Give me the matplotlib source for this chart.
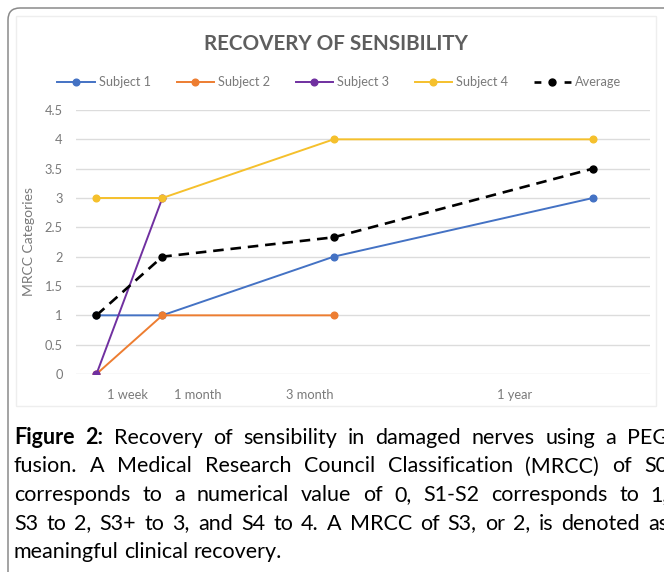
import numpy as np
import matplotlib.pyplot as plt
from matplotlib.patches import FancyBboxPatch, Rectangle
from matplotlib.lines import Line2D
from matplotlib.ticker import FuncFormatter

# Data
time_labels = ["1 week", "1 month", "3 month", "1 year"]
time_pos = [1, 4, 11.8, 23.6]          # where each time point sits on the drawn axis
label_pos = [2.4, 5.6, 10.7, 20.05]    # where the category text is printed

subject_1 = [1, 1, 2, 3]
subject_2 = [0, 1, 1, np.nan]
subject_3 = [0, 3, np.nan, np.nan]
subject_4 = [3, 3, 4, 4]
average = [1, 2, 2.33, 3.5]

series_names = ["Subject 1", "Subject 2", "Subject 3", "Subject 4", "Average"]

caption = [
    "Figure 2: Recovery of sensibility in damaged nerves using a PEG",
    "fusion. A Medical Research Council Classification (MRCC) of S0",
    "corresponds to a numerical value of 0, S1-S2 corresponds to 1,",
    "S3 to 2, S3+ to 3, and S4 to 4. A MRCC of S3, or 2, is denoted as",
    "meaningful clinical recovery.",
]

W, H = 664, 572
plt.rcParams['font.family'] = ['Lato', 'DejaVu Sans']

fig = plt.figure(figsize=(W / 100, H / 100), dpi=100)
fig.patch.set_facecolor("white")

# outer frame (runs off the right and bottom edges, as in the page crop)
fig.add_artist(FancyBboxPatch((8, -60), 760, H - 8 + 60,
                              boxstyle="round,pad=0,rounding_size=12",
                              transform=None, fc="none", ec="#8a8a8a", lw=1.1))
# faint frame of the pasted chart
fig.add_artist(Rectangle((16, H - 406), 640, 390, transform=None,
                         fc="none", ec="#eeeeee", lw=1))

ax = fig.add_axes([76 / W, 1 - 374 / H, (650 - 76) / W, (374 - 110) / H])

colors = ["#4472C4", "#ED7D31", "#7030A0", "#F5C02C"]
for vals, c, name in zip([subject_1, subject_2, subject_3, subject_4], colors, series_names):
    ax.plot(time_pos, vals, color=c, lw=1.4, marker="o", ms=4.8, label=name, zorder=3)

ax.plot(time_pos, average, color="black", lw=1.9, ls=(0, (4, 2.6)),
        marker="o", ms=5, label="Average", zorder=4)

ax.set_ylim(0, 4.5)
ax.set_xlim(0.067, 26.2)
ax.set_yticks(np.arange(0, 4.51, 0.5))
ax.yaxis.set_major_formatter(FuncFormatter(lambda v, p: f"{v:g}"))
ax.set_xticks(label_pos)
ax.set_xticklabels(time_labels)
ax.yaxis.grid(True, color="#dcdcdc", lw=1)
ax.set_axisbelow(True)
for s in ax.spines.values():
    s.set_visible(False)
ax.tick_params(length=0, labelsize=9.3, labelcolor="#7a7a7a")
ax.tick_params(axis="y", pad=9.5)
ax.tick_params(axis="x", pad=11)
ax.set_ylabel("MRCC Categories", fontsize=10, color="#7a7a7a", labelpad=7)

fig.text(336 / W, 1 - 44 / H, "RECOVERY OF SENSIBILITY", ha="center", va="center",
         fontsize=14.9, fontweight="bold", color="#5e5e5e")

handles, labels = ax.get_legend_handles_labels()
# legend key for the average: short dash, dot, short dash
handles[-1] = Line2D([], [], color="black", lw=1.9, ls=(0, (2.6, 8.8)),
                     marker="o", ms=5)
fig.legend(handles, labels, loc="center", bbox_to_anchor=(339.5 / W, 1 - 82 / H),
           ncol=5, frameon=False, fontsize=9.2, handlelength=2.9, handletextpad=0.35,
           columnspacing=2.0, labelcolor="#7a7a7a")

# caption, justified by hand like the journal text
fig.canvas.draw()
r = fig.canvas.get_renderer()
probe = fig.text(0, 0, caption[-1], fontsize=10)
size = 10 * 268 / probe.get_window_extent(r).width
probe.remove()

left, right = 14, 668
base_y = [444, 472.5, 501, 529.5, 558]
for i, line in enumerate(caption):
    words = line.split()
    objs = []
    for j, w in enumerate(words):
        bold = (i == 0 and j < 2)
        objs.append(fig.text(0, 1 - base_y[i] / H, w, fontsize=size, va="baseline",
                             fontweight="bold" if bold else "normal", color="black"))
    widths = [t.get_window_extent(r).width for t in objs]
    if i == len(caption) - 1:
        gap = size * 1.39 * 0.26
    else:
        gap = (right - left - sum(widths)) / (len(words) - 1)
    x = left
    for t, wd in zip(objs, widths):
        t.set_x(x / W)
        x += wd + gap

fig.savefig("out.png", dpi=100)
